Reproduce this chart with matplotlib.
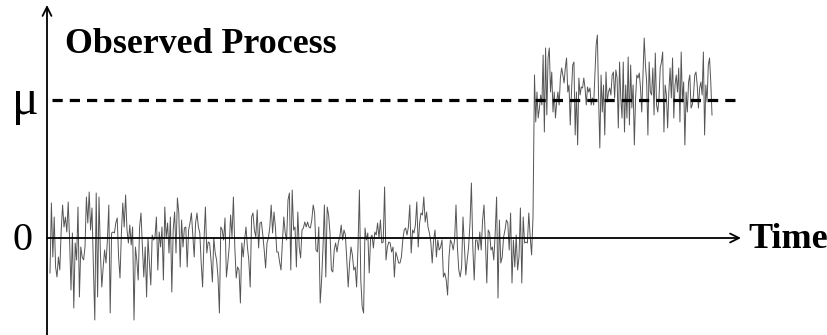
import numpy as np
import matplotlib.pyplot as plt

# observed values before the change (pixel-like units, mu = 138)
low_1 = [-35, 35, -19, 21, -29, -39, -19, -32, 8, 33, 11, 21, 6, 36, -2, -52, 5, -70, -5, -22, 31, -59, -9, -19,
         -22, -9, 41, 15, 46, 8, 30, -29, -82, 45, -59, 41, -15, -49, -29, -12, -25, -2, 33, -75, 5, 6, 5, 15]
low_2 = [20, -19, -40, 5, 35, 11, 43, 8, -5, 13, -7, 11, -82, -9, -22, -42, 11, 25, -9, -39, -9, -59, 0, -25,
         -47, 3, -2, 1, 21, -32, 6, -9, 11, -42, 31, 0, 15, -15, 21, -54, 8, 26, -15, 40, 25, -29, 18, -9, 10,
         11, -29, 8, 15]
low_3 = [25, 3, -19, 15, 25, 11, 5, -25, -49, -2, 31, -15, -4, -5, -22, -44, 0, -15, -22, -39, -75, 11, 8, -2,
         20, -39, -25, -9, 23, 1, 41, -9, -40, -29, -32, -65, -5, -19, -2, 11, -9, -22, -49, 21, 25, 8, 1, 28,
         -10, 15, 16, 3, -12, -30, -5, 0]
low_4 = [11, 33, 5, 26, 11, -14, -14, -24, -32, -4, 21, 5, -2, 38, 45, -32, 48, 8, 11, -29, 26, -9, -20, 8, 10,
         16, 11, 16, 11, 10, 18, 33, 25, -12, -14, 11, -65, -42, -9, 33, -39, 31, 23, 5, -32, -34, -12, -5, -14,
         -4, 1, 13, -2, 8, 3, -22, -49, -25, -9, -17, -32]
low_5 = [-29, -49, -9, 48, -42, -69, -75, 10, -2, 5, -35, 0, 3, -10, 6, 3, 15, 0, 18, -5, -4, 51, -22, -9, -4,
         -5, -14, -9, -39, -14, -19, -25, -25, -19, -2, 8, 10, 3, 11, 33, -15, 8, 5, 13, 36, -9, 15, 25, 23, 41,
         16, 26, 11, 5, -4, -25, -2, 8, -19, -2, -12]
low_6 = [-9, -2, -39, -35, -42, -57, -19, -2, -5, -12, -2, 33, -9, -32, -39, -29, 21, -9, -37, -22, -9, 15, 55,
         -9, -42, -2, -2, -12, 6, -12, 18, 33, -2, -45, 8, 5, -12, -9, -22, 5, 41, -60, 18, -25, -19, 1, 8, 18,
         15, -12, 25, -45, -2, -29, 3, -32, -19, 30, -45, 21, -5, -4, -5, 25, 1, -17, 21]

# observed values after the change
high_1 = [163, 116, 146, 120, 130, 143, 133, 183, 106, 190, 123, 180, 190, 146, 166, 126, 146, 120, 136, 146,
          133, 160, 170, 163, 155, 170, 180, 146, 153, 113, 146, 173, 176, 103, 146, 93, 160, 143, 151, 150,
          160, 150, 133, 151, 146, 150, 133, 140, 133, 163, 193, 203, 140, 90]
high_2 = [163, 126, 153, 103, 166, 136, 146, 150, 143, 163, 166, 140, 168, 160, 110, 176, 140, 120, 176, 106,
          153, 120, 181, 113, 173, 130, 153, 93, 140, 163, 160, 165, 150, 126, 163, 200, 173, 156, 103, 176,
          146, 143, 170, 123, 185, 133, 126, 140, 170, 176, 186]
high_3 = [106, 153, 143, 110, 146, 170, 140, 180, 120, 153, 163, 146, 170, 116, 186, 136, 156, 93, 146, 126,
          156, 163, 130, 133, 143, 163, 166, 153, 130, 150, 156, 143, 186, 103, 153, 136, 173, 180, 156, 123]

mu = 138
t_start, t_change, t_end = 3, 486, 665
dash_end = 693
x_axis_end = 694

low = low_1 + low_2 + low_3 + low_4 + low_5 + low_6
high = high_1 + high_2 + high_3
t = np.concatenate([np.linspace(t_start, t_change, len(low)),
                    np.linspace(t_change + 1.5, t_end, len(high))])
y = np.array(low + high)

fig = plt.figure(figsize=(8.27, 3.35), dpi=100)
ax = fig.add_axes([0, 0, 1, 1])
ax.set_xlim(-47, 780)
ax.set_ylim(-97, 238)
ax.axis('off')

ax.plot(t, y, color='#555555', lw=0.7, zorder=1)

# dashed mean level
ax.plot([5, dash_end], [mu, mu], color='black', lw=2.3, dashes=(3.2, 2.2), zorder=2)

# axes arrows
arr = dict(arrowstyle='->', lw=1.3, color='black', shrinkA=0, shrinkB=0, mutation_scale=16)
ax.annotate('', xy=(0, 233), xytext=(0, -97), arrowprops=arr, zorder=3)
ax.annotate('', xy=(x_axis_end, 0), xytext=(0, 0), arrowprops=arr, zorder=3)

serif = 'Liberation Serif'
ax.text(18, 185, 'Observed Process', fontsize=25.8, fontweight='bold', family=serif,
        ha='left', va='baseline')
ax.text(-22, mu - 2, 'μ', fontsize=36, family=serif, ha='center', va='center')
ax.text(-25, -2, '0', fontsize=29, family=serif, ha='center', va='center')
ax.text(701, -2, 'Time', fontsize=26, fontweight='bold', family=serif, ha='left', va='center')

fig.savefig('out.png', dpi=100)
